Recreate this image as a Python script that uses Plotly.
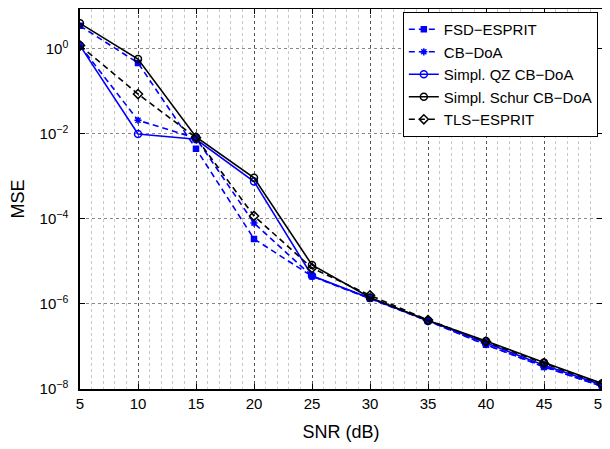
import plotly.graph_objects as go

# SNR grid (dB)
snr = [5, 10, 15, 20, 25, 30, 35, 40, 45, 50]

# MSE per method
mse_fsd = [3.5, 0.47, 0.0045, 3.4e-5, 4.5e-6, 1.35e-6, 4.0e-7, 1.1e-7, 3.3e-8, 1.15e-8]
mse_cb = [1.2, 0.021, 0.008, 8.0e-5, 4.5e-6, 1.35e-6, 4.0e-7, 1.1e-7, 3.4e-8, 1.15e-8]
mse_qz = [1.2, 0.0100, 0.0075, 7.6e-4, 4.6e-6, 1.38e-6, 4.0e-7, 1.2e-7, 3.6e-8, 1.25e-8]
mse_schur = [4.0, 0.58, 0.0085, 9.3e-4, 8.3e-6, 1.42e-6, 4.1e-7, 1.35e-7, 4.2e-8, 1.35e-8]
mse_tls = [1.2, 0.087, 0.0082, 1.18e-4, 7.0e-6, 1.6e-6, 4.2e-7, 1.3e-7, 4.0e-8, 1.3e-8]

ytick_vals = [1e-8, 1e-6, 1e-4, 1e-2, 1e0]
ytick_text = ["10<sup>−8</sup>", "10<sup>−6</sup>", "10<sup>−4</sup>", "10<sup>−2</sup>", "10<sup>0</sup>"]

BLUE = "#0000ff"
BLACK = "#000000"
DASH = "6px,4px"

series = [
    ("FSD−ESPRIT", mse_fsd, BLUE, DASH, "square", 5),
    ("CB−DoA", mse_cb, BLUE, DASH, "asterisk-open", 6),
    ("Simpl. QZ CB−DoA", mse_qz, BLUE, "solid", "circle-open", 7),
    ("Simpl. Schur CB−DoA", mse_schur, BLACK, "solid", "circle-open", 7),
    ("TLS−ESPRIT", mse_tls, BLACK, DASH, "diamond-open", 7),
]

fig = go.Figure()
for name, vals, color, dash, symbol, msize in series:
    fig.add_trace(
        go.Scatter(
            x=snr,
            y=vals,
            mode="lines+markers",
            name=name,
            line=dict(color=color, width=1.6, dash=dash),
            marker=dict(symbol=symbol, size=msize, color=color, line=dict(color=color, width=1.5)),
        )
    )

font = "Liberation Sans, Arial, Helvetica, sans-serif"

fig.update_xaxes(
    range=[5, 50],
    tickvals=snr,
    ticks="inside",
    ticklen=5,
    tickcolor=BLACK,
    ticklabeloverflow="allow",
    showline=True,
    linecolor=BLACK,
    linewidth=1.5,
    mirror="ticks",
    showgrid=True,
    gridcolor="#555555",
    griddash="dot",
    gridwidth=1,
    zeroline=False,
    minor=dict(dtick=1, showgrid=True, gridcolor="#c8c8c8", griddash="dot", gridwidth=1),
    title=dict(text="SNR (dB)", font=dict(size=18, color=BLACK), standoff=15),
    tickfont=dict(size=15, color=BLACK),
    automargin=False,
)
fig.update_yaxes(
    type="log",
    range=[-8, 0.94],
    tickvals=ytick_vals,
    ticktext=ytick_text,
    ticks="inside",
    ticklen=5,
    tickcolor=BLACK,
    ticklabelstandoff=7,
    showline=True,
    linecolor=BLACK,
    linewidth=1.5,
    mirror="ticks",
    showgrid=True,
    gridcolor="#888888",
    griddash="dot",
    gridwidth=1,
    zeroline=False,
    title=dict(text="MSE", font=dict(size=18, color=BLACK), standoff=15),
    tickfont=dict(size=15, color=BLACK),
    automargin=False,
)

# page body adds an 8px offset, so the figure is sized to fit the window
fig.update_layout(
    width=602,
    height=441,
    margin=dict(l=72, r=8, t=1, b=60),
    paper_bgcolor="white",
    plot_bgcolor="white",
    font=dict(family=font, color=BLACK),
    legend=dict(
        x=0.992,
        y=0.992,
        xanchor="right",
        yanchor="top",
        bgcolor="white",
        bordercolor=BLACK,
        borderwidth=1,
        font=dict(size=15, color=BLACK),
        tracegroupgap=0,
        itemwidth=30,
    ),
)

fig.write_html("out.html")
